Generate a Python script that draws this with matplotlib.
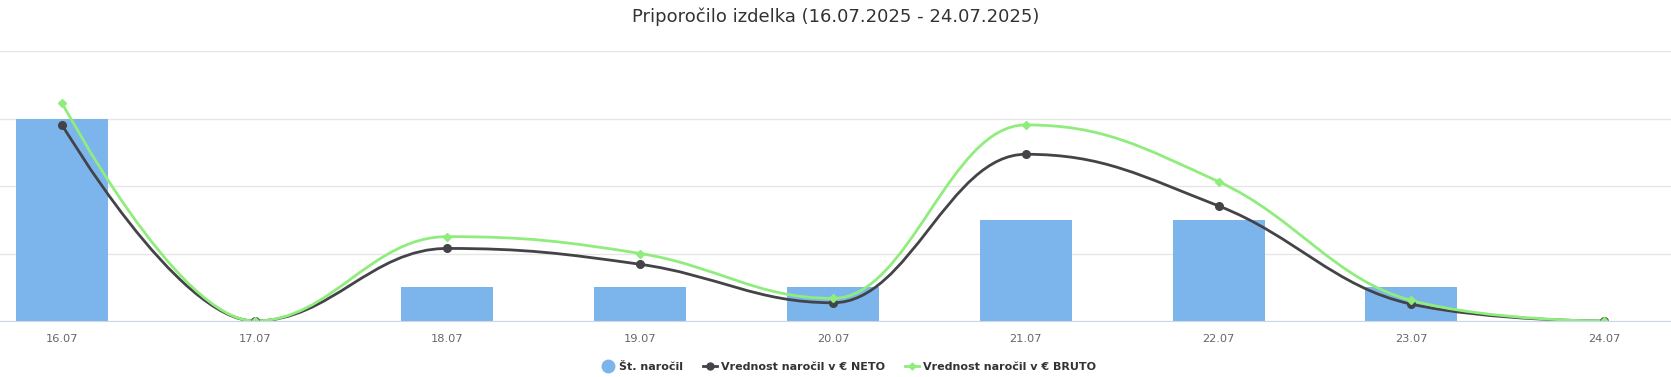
import numpy as np
import matplotlib
matplotlib.use("Agg")
import matplotlib.pyplot as plt
from matplotlib.path import Path
from matplotlib.patches import PathPatch
from matplotlib.lines import Line2D

title = "Priporočilo izdelka (16.07.2025 - 24.07.2025)"
categories = ["16.07", "17.07", "18.07", "19.07", "20.07", "21.07", "22.07", "23.07", "24.07"]
orders = [6, 0, 1, 1, 1, 3, 3, 1, 0]
neto = [5.82, 0, 2.15, 1.68, 0.54, 4.94, 3.41, 0.50, 0]
bruto = [6.47, 0, 2.50, 2.00, 0.67, 5.81, 4.13, 0.61, 0]
series_names = ["Št. naročil", "Vrednost naročil v € NETO", "Vrednost naročil v € BRUTO"]

BAR = "#7cb5ec"
NETO_C = "#434348"
BRUTO_C = "#90ed7d"


def spline_path(xs, ys, smoothing=1.5):
    n = len(xs)
    denom = smoothing + 1
    lc = [None] * n
    rc = [None] * n
    for i in range(n):
        x, y = xs[i], ys[i]
        if 0 < i < n - 1:
            lx, ly = xs[i - 1], ys[i - 1]
            nx, ny = xs[i + 1], ys[i + 1]
            lcx = (smoothing * x + lx) / denom
            lcy = (smoothing * y + ly) / denom
            rcx = (smoothing * x + nx) / denom
            rcy = (smoothing * y + ny) / denom
            if rcx != lcx:
                corr = ((rcy - lcy) * (rcx - x)) / (rcx - lcx) + y - rcy
                lcy += corr
                rcy += corr
            if lcy > ly and lcy > y:
                lcy = max(ly, y)
                rcy = 2 * y - lcy
            elif lcy < ly and lcy < y:
                lcy = min(ly, y)
                rcy = 2 * y - lcy
            if rcy > ny and rcy > y:
                rcy = max(ny, y)
                lcy = 2 * y - rcy
            elif rcy < ny and rcy < y:
                rcy = min(ny, y)
                lcy = 2 * y - rcy
            lc[i] = (lcx, lcy)
            rc[i] = (rcx, rcy)
        else:
            lc[i] = (x, y)
            rc[i] = (x, y)
    verts = [(xs[0], ys[0])]
    codes = [Path.MOVETO]
    for i in range(1, n):
        verts += [rc[i - 1], lc[i], (xs[i], ys[i])]
        codes += [Path.CURVE4] * 3
    return Path(verts, codes)


W, H = 1671, 377
fig = plt.figure(figsize=(W / 100, H / 100), dpi=100)
fig.patch.set_facecolor("white")
ax = fig.add_axes([0, 1 - 321 / H, 1, (321 - 51) / H])

x = np.arange(len(categories))
ax.bar(x, orders, width=0.477, color=BAR, zorder=2)

for vals, col, lw, z in [(neto, NETO_C, 2, 3), (bruto, BRUTO_C, 2, 4)]:
    p = spline_path(list(x.astype(float)), vals)
    ax.add_patch(PathPatch(p, facecolor="none", edgecolor=col, lw=lw, zorder=z, capstyle="round"))

ax.plot(x, neto, linestyle="none", marker="o", ms=5.5, color=NETO_C, zorder=5)
ax.plot(x, bruto, linestyle="none", marker="D", ms=3.6, color=BRUTO_C, zorder=6)

ax.set_xlim(-62 / 193, 8 + (W - 1604) / 193)
ax.set_ylim(0, 8)
ax.set_yticks([0, 2, 4, 6, 8])
ax.yaxis.grid(True, color="#e6e6e6", lw=1)
ax.set_axisbelow(True)
ax.tick_params(axis="y", left=False, labelleft=False)
ax.set_xticks(x)
ax.set_xticklabels(categories, fontsize=8.2, color="#666666")
ax.tick_params(axis="x", length=0, pad=9)
for s in ["top", "left", "right"]:
    ax.spines[s].set_visible(False)
ax.spines["bottom"].set_color("#ccd6eb")
ax.spines["bottom"].set_zorder(7)

fig.text(0.5, 1 - 17 / H, title, ha="center", va="center", fontsize=13.0, color="#333333")

handles = [
    Line2D([], [], linestyle="none", marker="o", ms=9, color=BAR),
    Line2D([], [], color=NETO_C, lw=2, marker="o", ms=5),
    Line2D([], [], color=BRUTO_C, lw=2, marker="D", ms=3.5),
]
leg = fig.legend(handles, series_names, loc="center", bbox_to_anchor=(0.508, 1 - 367 / H), ncol=3,
                 frameon=False, prop={"weight": "bold", "size": 8.0}, handlelength=1.2,
                 handletextpad=0.4, columnspacing=1.8, borderpad=0, borderaxespad=0)
for t in leg.get_texts():
    t.set_color("#333333")

fig.savefig("out.png", dpi=100, facecolor="white")
